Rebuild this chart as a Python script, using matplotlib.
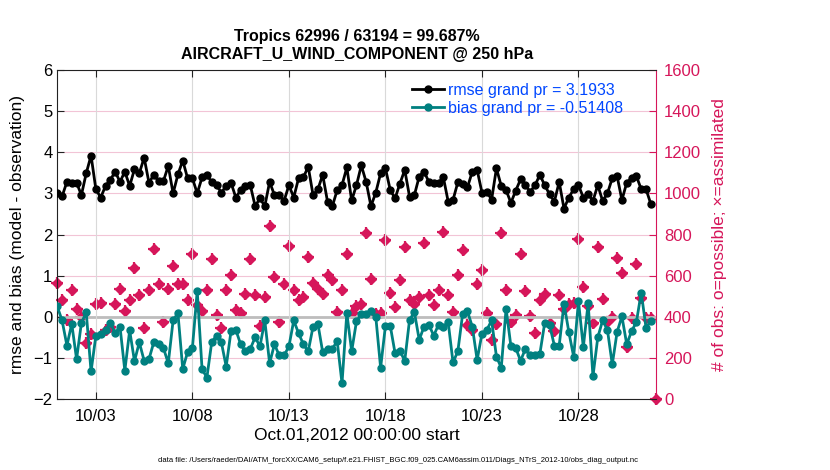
import numpy as np
import matplotlib
matplotlib.use('Agg')
import matplotlib.pyplot as plt
import matplotlib.dates as mdates

# 6-hourly analysis times, Oct 1 2012 onward
times = np.arange(np.datetime64('2012-10-01T00'), np.datetime64('2012-11-01T06'),
                  np.timedelta64(6, 'h'))

rmse = [3.02, 2.93, 3.28, 3.26, 3.26, 2.96, 3.49, 3.92, 3.10, 2.90,
        3.18, 3.33, 3.53, 3.28, 3.53, 3.18, 3.59, 3.49, 3.87, 3.26,
        3.45, 3.30, 3.30, 3.67, 3.00, 3.46, 3.80, 3.37, 3.37, 3.00,
        3.39, 3.44, 3.28, 3.20, 3.02, 3.18, 3.26, 2.90, 3.08, 3.18,
        3.20, 2.69, 2.88, 2.69, 3.28, 2.96, 2.96, 2.82, 3.20, 2.90,
        3.37, 3.39, 3.65, 2.96, 3.10, 3.45, 2.80, 2.69, 3.08, 3.20,
        3.63, 2.83, 3.20, 3.68, 3.28, 2.69, 3.02, 3.49, 3.61, 3.08,
        2.88, 3.24, 3.57, 2.92, 2.96, 3.41, 3.53, 3.28, 3.26, 3.26,
        3.39, 2.80, 2.84, 3.27, 3.24, 3.15, 3.53, 3.57, 3.02, 3.04,
        2.85, 3.61, 3.18, 3.08, 2.77, 3.07, 3.34, 3.20, 3.04, 3.20,
        3.45, 3.20, 2.98, 2.80, 3.28, 2.63, 2.90, 3.10, 3.20, 2.90,
        2.98, 2.82, 3.20, 2.82, 3.00, 3.37, 3.42, 2.84, 3.26, 3.37,
        3.42, 3.10, 3.10, 2.74]

bias = [0.25, -0.09, -0.70, -0.17, -1.03, -0.15, 0.11, -1.33, -0.46, -0.43,
        -0.33, -0.15, -0.40, -0.24, -1.31, -0.33, -1.08, -0.62, -1.07, -1.03,
        -0.62, -0.67, -0.76, -1.13, -0.09, 0.09, -1.27, -0.86, -0.76, 0.63,
        -1.27, -1.48, -0.62, -0.46, -0.62, -1.21, -0.35, -0.32, -0.67, -0.84,
        -0.78, -0.50, -0.72, -0.09, -1.13, -0.67, -0.94, -0.94, -0.72, -0.09,
        -0.40, -0.67, -0.84, -0.24, -0.17, -0.86, -0.78, -0.78, -0.59, -1.62,
        0.09, -0.84, -0.11, 0.07, 0.07, 0.13, 0.00, -1.24, -0.22, -0.22,
        -0.89, -0.83, -1.07, -0.07, 0.11, -0.56, -0.24, -0.19, -0.46, -0.19,
        -0.25, -0.13, -1.11, -0.84, 0.07, 0.13, -0.24, -1.05, -0.41, -0.32,
        -0.09, -0.97, -1.24, 0.20, -0.72, -0.76, -1.07, -0.78, -0.94, -0.94,
        -0.90, -0.15, -0.19, -0.70, -0.70, 0.32, -0.37, -0.97, 0.38, -0.74,
        0.33, -1.45, -0.50, -0.09, -0.32, -1.16, -0.37, 0.01, -0.67, -0.35,
        -0.13, 0.59, -0.27, -0.10]

nobs = [564, 483, 382, 528, 439, 398, 272, 317, 460, 467,
        337, 350, 463, 537, 428, 483, 639, 504, 346, 528,
        732, 558, 374, 537, 646, 558, 561, 480, 707, 455,
        428, 532, 683, 411, 346, 528, 602, 431, 418, 509,
        683, 504, 353, 496, 841, 594, 374, 561, 743, 532,
        483, 496, 691, 564, 537, 509, 602, 577, 423, 528,
        704, 418, 450, 463, 808, 585, 415, 418, 772, 515,
        447, 577, 740, 483, 460, 496, 759, 504, 455, 532,
        813, 504, 423, 602, 724, 358, 337, 558, 626, 418,
        285, 363, 808, 528, 374, 407, 707, 525, 402, 320,
        483, 509, 369, 333, 504, 439, 460, 467, 776, 545,
        450, 369, 737, 485, 376, 400, 685, 612, 254, 393,
        657, 493, 396, 393, 0]

rmse_grand = 3.1933
bias_grand = -0.51408

TEAL = '#008080'
CRIM = '#D6165A'
BLUE = '#0047FF'

plt.rcParams['font.family'] = ['Liberation Sans', 'DejaVu Sans']

fig = plt.figure(figsize=(8.3, 4.7), dpi=100)
ax = fig.add_axes([0.069, 0.151, 0.721, 0.700])
ax2 = ax.twinx()

# obs counts behind the error curves
ax.set_zorder(2)
ax.patch.set_visible(False)
ax2.plot(times[:len(nobs)], nobs, ls='none', marker='D', ms=5.5, color=CRIM,
         mec=CRIM, clip_on=False)
ax2.plot(times[:len(nobs)], nobs, ls='none', marker='+', ms=8.5, mew=1.6,
         color=CRIM, clip_on=False)
ax2.set_ylim(0, 1600)
ax2.set_yticks(range(0, 1601, 200))
ax2.tick_params(axis='y', colors=CRIM, direction='in', labelsize=12, length=5, pad=6)
ax2.set_ylabel('# of obs: o=possible; \u00d7=assimilated', color=CRIM, fontsize=12.5,
               labelpad=8)
ax2.grid(axis='y', color='#F2C4D6', lw=0.8)
ax2.spines['right'].set_color(CRIM)
ax2.spines['left'].set_visible(False)
ax2.spines['top'].set_visible(False)
ax2.spines['bottom'].set_visible(False)

ax.axhline(0, color='#BDBDBD', lw=2, zorder=1)
ax.plot(times[:len(rmse)], rmse, '-o', color='black', lw=2, ms=5,
        label=f'rmse grand pr = {rmse_grand}', zorder=3)
ax.plot(times[:len(bias)], bias, '-o', color=TEAL, lw=2, ms=5,
        label=f'bias grand pr = {bias_grand}', zorder=3)

ax.set_ylim(-2, 6)
ax.set_yticks(range(-2, 7))
ax.set_xlim(np.datetime64('2012-10-01T00'), np.datetime64('2012-11-01T00'))
ax.xaxis.set_major_locator(mdates.DayLocator(bymonthday=[3, 8, 13, 18, 23, 28]))
ax.xaxis.set_major_formatter(mdates.DateFormatter('%m/%d'))
ax.grid(axis='x', color='#D9D9D9', lw=0.8)
ax.tick_params(direction='in', labelsize=12, length=5, top=True, color='#222222')
ax.tick_params(axis='x', pad=7)
ax.set_ylabel('rmse and bias (model - observation)', fontsize=12.5, labelpad=6)
ax.set_xlabel('Oct.01,2012 00:00:00 start', fontsize=12.5, labelpad=3)
for s in ['left', 'bottom', 'top']:
    ax.spines[s].set_color('#222222')
ax.spines['right'].set_visible(False)

leg = ax.legend(loc='upper right', bbox_to_anchor=(0.965, 0.995), frameon=False,
                fontsize=11.5, labelcolor=BLUE, handlelength=2.0,
                handletextpad=0.3, borderaxespad=0.3, labelspacing=0.2)

fig.text(0.43, 0.912, 'Tropics 62996 / 63194 = 99.687%', ha='center',
         fontsize=11.5, fontweight='bold')
fig.text(0.43, 0.874, 'AIRCRAFT_U_WIND_COMPONENT @ 250 hPa', ha='center',
         fontsize=11.5, fontweight='bold')
fig.text(0.48, 0.018,
         'data file: /Users/raeder/DAI/ATM_forcXX/CAM6_setup/f.e21.FHIST_BGC.f09_025.'
         'CAM6assim.011/Diags_NTrS_2012-10/obs_diag_output.nc',
         ha='center', fontsize=5.5)

fig.savefig('out.png', dpi=100)
